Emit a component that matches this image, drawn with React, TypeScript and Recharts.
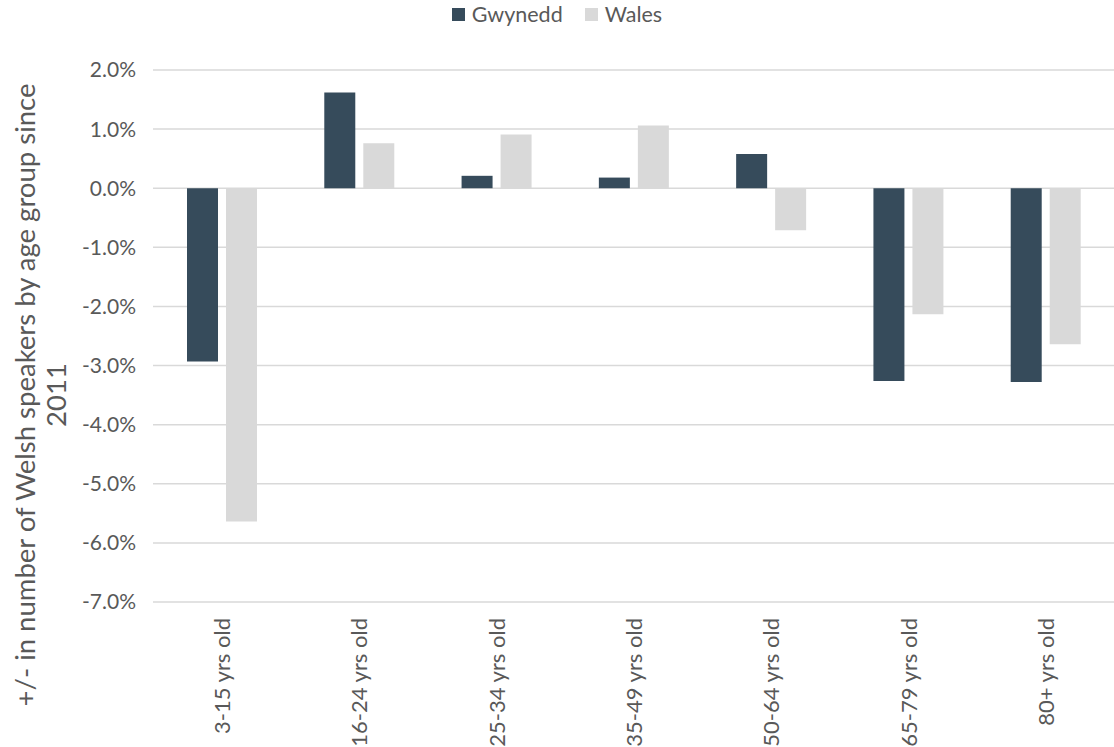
import React from 'react';
import { BarChart, Bar, XAxis, YAxis, CartesianGrid, Legend } from 'recharts';

const categories = ['3-15 yrs old', '16-24 yrs old', '25-34 yrs old', '35-49 yrs old', '50-64 yrs old', '65-79 yrs old', '80+ yrs old'];
const gwynedd = [-2.93, 1.62, 0.21, 0.18, 0.58, -3.26, -3.28];
const wales = [-5.64, 0.76, 0.91, 1.06, -0.71, -2.13, -2.64];
const yTicks = [-7, -6, -5, -4, -3, -2, -1, 0, 1, 2];
const seriesNames = ['Gwynedd', 'Wales'];
const seriesColors = ['#364B5B', '#D9D9D9'];
const yTitleLines = ['+/- in number of Welsh speakers by age group since', '2011'];

const data = categories.map((c, i) => ({ name: c, Gwynedd: gwynedd[i], Wales: wales[i] }));

const FONT = 'Lato, "Open Sans", sans-serif';
const TEXT = '#595959';

const XTick = (props: any) => {
  const { x, y, payload } = props;
  return (
    <text
      x={x}
      y={y}
      transform={`rotate(-90, ${x}, ${y})`}
      textAnchor="end"
      dominantBaseline="central"
      fill={TEXT}
      fontSize={22}
      fontFamily={FONT}
    >
      {payload.value}
    </text>
  );
};

const LegendContent = () => (
  <div style={{ height: 70, display: 'flex', justifyContent: 'center', alignItems: 'flex-start', fontFamily: FONT, fontSize: 21.5, color: TEXT }}>
    {seriesNames.map((n, i) => (
      <div key={n} style={{ display: 'flex', alignItems: 'center', marginLeft: i === 0 ? 0 : 22, marginTop: 1 }}>
        <div style={{ width: 13, height: 13, background: seriesColors[i], marginRight: 7 }} />
        <span>{n}</span>
      </div>
    ))}
  </div>
);

const YLabel = () => (
  <text
    transform="rotate(-90, 0, 0)"
    textAnchor="middle"
    fill={TEXT}
    fontSize={27.5}
    fontFamily={FONT}
  >
    <tspan x={-395} y={35}>{yTitleLines[0]}</tspan>
    <tspan x={-395} y={66}>{yTitleLines[1]}</tspan>
  </text>
);

export default function App() {
  return (
    <div style={{ position: 'absolute', left: 0, top: 0, background: '#fff' }}>
      <BarChart
        width={1114}
        height={747}
        data={data}
        margin={{ top: 0, right: 0, bottom: 0, left: 0 }}
        barSize={31}
        barGap={8}
      >
        <CartesianGrid vertical={false} stroke="#D9D9D9" strokeWidth={1.5} />
        <XAxis
          dataKey="name"
          axisLine={false}
          tickLine={false}
          height={145}
          interval={0}
          tick={<XTick />}
          tickMargin={10}
        />
        <YAxis
          domain={[-7, 2]}
          ticks={yTicks}
          width={153}
          axisLine={false}
          tickLine={false}
          tickSize={0}
          tickMargin={17}
          tickFormatter={(v: number) => `${v.toFixed(1)}%`}
          tick={{ fill: TEXT, fontSize: 21, fontFamily: FONT }}
          label={<YLabel />}
        />
        <Legend verticalAlign="top" wrapperStyle={{ top: 0, left: 0, width: 1114 }} content={<LegendContent />} />
        <Bar dataKey="Gwynedd" fill={seriesColors[0]} isAnimationActive={false} />
        <Bar dataKey="Wales" fill={seriesColors[1]} isAnimationActive={false} />
      </BarChart>
    </div>
  );
}
